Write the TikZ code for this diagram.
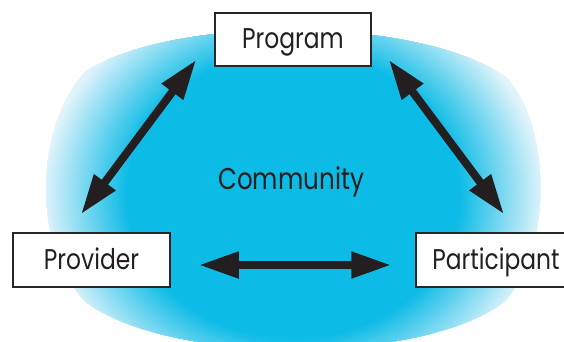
\documentclass[tikz,border=0pt]{standalone}
\usepackage{fontspec}
\newfontfamily\futfont[FakeStretch=0.82]{Poppins}
\usetikzlibrary{arrows.meta,calc}
\definecolor{cmid}{RGB}{12,187,230}
\definecolor{cthree}{RGB}{222,243,251}
\definecolor{boxc}{RGB}{40,38,38}
\definecolor{txt}{RGB}{35,31,32}
\begin{document}
\begin{tikzpicture}[x=1pt,y=-1pt,
  box/.style={draw=boxc, line width=1.5pt, fill=white, minimum width=156pt, minimum height=53pt, inner sep=0pt,
    font=\futfont\fontsize{28.5}{30}\selectfont, text=txt, text height=22pt, text depth=3pt},
  dbl/.style={{Triangle[length=40pt,width=25pt]}-{Triangle[length=40pt,width=25pt]}, line width=8pt, draw=txt}]
\useasboundingbox (0,0) rectangle (564,342);
\begin{scope}
\clip (85,72) .. controls (170,15) and (420,15) .. (507,78) .. controls (552,130) and (552,250) .. (504,302) .. controls (420,365) and (170,365) .. (86,302) .. controls (33,250) and (33,130) .. cycle;
\fill[white] (0,0) rectangle (564,342);
\foreach \i in {0,...,15} {
  \pgfmathsetmacro\rr{1.15-0.01*\i}
  \pgfmathsetmacro\qq{100*(1.15-\rr)/0.15}
  \fill[cthree!\qq!white] (293.5,195) ellipse [x radius={\rr*250pt}, y radius={\rr*215pt}];
}
\foreach \i in {1,...,34} {
  \pgfmathsetmacro\rr{1.0-0.01*\i}
  \pgfmathsetmacro\tt{min(1,(1-\rr)/0.33)}
  \pgfmathsetmacro\pp{100*\tt}
  \fill[cmid!\pp!cthree] (293.5,195) ellipse [x radius={\rr*250pt}, y radius={\rr*215pt}];
}
\end{scope}
\node[box] (prog) at (293,39.5) {Program};
\node[box, minimum width=157pt, minimum height=54pt] (prov) at (91.5,260) {Provider};
\node[box, minimum width=160pt, minimum height=54pt] (part) at (496,260) {Participant};
\node[font=\futfont\fontsize{30}{32}\selectfont, text=txt, anchor=base, inner sep=0pt] (comm) at (291,189) {Community};
\coordinate (l1) at ($(prog.south west)+(-18,-7)$);
\coordinate (l2) at ($(prov.north)+(-10.5,-18)$);
\coordinate (r1) at ($(prog.south east)+(17,-7)$);
\coordinate (r2) at ($(part.north)+(8,-18)$);
\coordinate (b1) at ($(prov.east)+(28,5)$);
\coordinate (b2) at ($(part.west)+(-24,5)$);
\draw[dbl] (l1) -- (l2);
\draw[dbl] (r1) -- (r2);
\draw[dbl] (b1) -- (b2);
\end{tikzpicture}
\end{document}
